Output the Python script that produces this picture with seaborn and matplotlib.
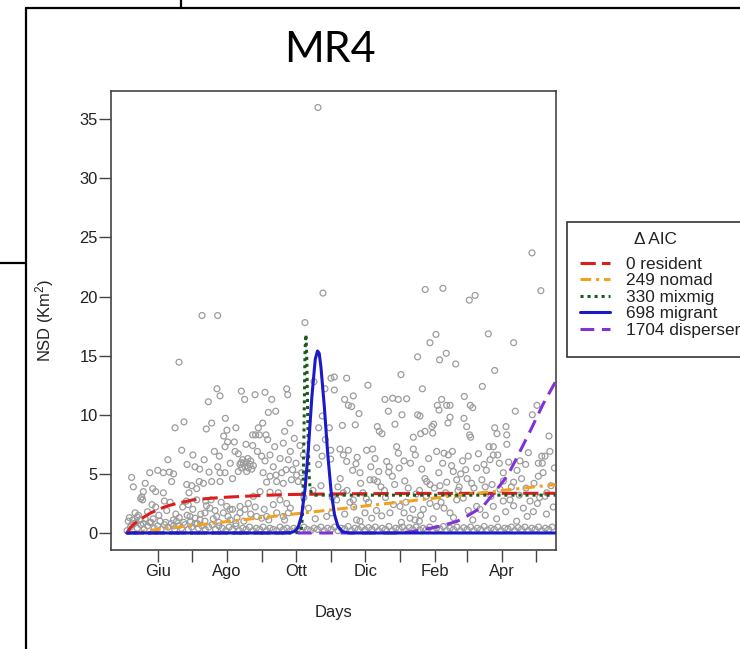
import matplotlib
matplotlib.use("Agg")
import matplotlib.pyplot as plt
from matplotlib.lines import Line2D
from matplotlib.patches import Rectangle
import seaborn as sns

# 月份刻度（以 5 月 1 日为第 0 天）
month_days = [31, 61, 92, 123, 153, 184, 214, 245, 276, 304, 335, 365]
month_labels = ["Giu", "", "Ago", "", "Ott", "", "Dic", "", "Feb", "", "Apr", ""]

# 散点：离散的 NSD 观测值
cloud_day = [
    172.4, 176.8, 361.2, 369, 267, 282.6, 311, 305.9, 70.1, 83.9, 49.8, 160.9,
    276.5, 322.7, 271.2, 345, 285.6, 260.3, 279.7, 293.9, 328.3, 245.6, 317.4, 216.5,
    264.5, 183.9, 186.8, 197.7, 168.9, 186.8, 178.6, 195.9, 203.6, 199.2, 202.1, 231.5,
    238.3, 243.3, 250.6, 234.5, 246.5, 260.3, 262.4, 281.5, 285.9, 288.9, 277.7, 279.2,
    301.5, 306.8, 308.9, 288.9, 346.5, 365.6, 361.5, 208.6, 193.9, 205.3, 240.3, 224.8,
    226.5, 228.9, 256.5, 263, 266.8, 273, 273.6, 274.5, 287.1, 301.2, 303.6, 306.2,
    307.1, 328.3, 330.3, 338.3, 338.9, 376.2,
    83.3, 86, 75.7, 104.8, 107.7, 116.9, 125.7, 131.6, 144.8, 145.7, 128.6, 135.1,
    90.7, 123.6, 119.8, 46.3, 54.2, 73.9, 78.6, 92.1, 147.7,
    8.0, 9.5, 31, 36, 41.3, 43.3, 26.6, 29.2, 36, 16, 17.7, 16.9, 29.2, 36.9, 52.2,
    56.9, 63.9, 56.6, 61, 65.4, 58.6, 56.3, 58, 67.7, 71.3, 76.3, 78.6, 86, 65.4,
    73.3, 78, 86, 90.4, 90.4, 89.2, 92.7, 98.6, 85.4, 99.2, 102.1,
    103.6, 106.6, 109, 112.5, 108, 111, 105, 114, 102.1, 115.4, 109.5, 106, 110.5, 113, 104.5,
    108.9, 114.8, 117.4, 120.7, 126.6, 114.8, 122.7, 125.7, 130.1, 134.2, 141.8, 124,
    130.1, 135.4, 140.4, 144.2, 146.3, 127.1, 136, 141.8, 115.4, 121.3, 130.1, 137.4,
    103.6, 108, 111, 103.6, 91.9, 94.8, 88.9, 77.1, 81.6, 72.7, 59.5, 63.9, 68.3,
    72.7, 44.8, 47.7, 118.3, 122.7, 127.1, 136, 141.8, 146.3, 138.9, 144.8, 11, 13,
    15.4, 8, 18.3, 18.3,
    5, 6, 9, 12, 14, 20, 24, 27, 33, 38, 45, 50, 54, 60, 66, 80, 85, 95, 100,
    151.5, 156.5, 159.5, 153, 150, 153.6, 158, 149, 155, 159.5, 176.2, 182.4, 173,
    178.9, 171.2, 183.6, 176, 173, 183.6, 191.8, 194.8, 199.2, 205.9, 197.7, 203,
    209.5, 215.3, 220.6, 222.7, 218.3, 221.8, 224.8, 233, 235.3, 234.8, 241.8, 243.3,
    256.5, 258.3, 248.3, 266.8, 268.3, 271.2, 277.1, 283.6, 287.4, 282.4, 290.3,
    291.8, 294.8, 298.3, 302.7, 305, 312.4, 318.9, 324.2, 327.1, 323.3, 327.1, 332.4,
    340.6, 335.9, 350.6, 355.6, 366.8, 370.3, 372.7, 366.8, 374.2, 359.5, 362.4,
    353.6, 347.7, 335.9, 341.8, 327.1, 312.4, 315.3, 300.6, 288.9, 294.8, 277.1,
    283.6, 265.3, 271.2, 253.6, 258, 261.8, 244.8, 248.3, 235.9, 228.6, 213.9, 219.8,
    206.5, 209.5, 200.6, 203.6, 194.8, 188.9, 184.5, 180.1,
    160, 168, 175, 190, 210, 228, 240, 252, 262, 280, 296, 308, 320, 333, 345, 356,
    378, 164, 170, 185, 215, 232, 250, 268, 285, 325, 350, 368, 380, 369.8, 372.7,
]
cloud_nsd = [
    36.0, 20.3, 23.7, 20.5, 20.6, 20.7, 20.1, 19.7, 18.4, 18.4, 14.45, 17.8,
    16.8, 16.85, 16.1, 16.1, 15.2, 14.9, 14.65, 14.3, 13.75, 13.4, 12.4, 12.5,
    12.2, 13.1, 13.2, 13.1, 12.8, 12.1, 12.2, 11.3, 11.6, 10.8, 10.7, 11.3,
    11.4, 11.3, 11.35, 10.3, 10.0, 10.0, 9.9, 11.3, 10.8, 10.8, 10.8, 10.4,
    11.55, 10.8, 10.6, 9.8, 10.3, 10.8, 10.0, 10.1, 9.1, 9.15, 9.2, 9.0,
    8.6, 8.4, 8.1, 8.4, 8.6, 9.0, 8.45, 9.2, 9.3, 9.7, 9.0, 8.3,
    8.1, 8.9, 8.4, 9.0, 8.3, 8.2,
    12.2, 11.6, 11.1, 12.0, 11.3, 11.7, 11.9, 11.3, 12.2, 11.7, 10.2, 10.3,
    9.7, 9.3, 8.9, 8.9, 9.4, 8.8, 9.3, 8.7, 9.3,
    4.7, 3.9, 5.3, 5.1, 5.15, 4.35, 3.75, 3.5, 3.4, 2.9, 2.8, 3.05, 2.2, 2.7, 7.0,
    5.8, 5.6, 4.1, 4.0, 3.75, 3.4, 2.7, 2.4, 4.35, 4.2, 5.15, 4.35, 4.35, 2.8,
    2.7, 2.8, 5.1, 5.1, 7.3, 8.2, 7.7, 7.7, 6.5, 6.9, 6.7,
    5.8, 5.9, 6.0, 5.8, 5.6, 5.5, 5.5, 5.4, 5.2, 5.7, 5.2, 6.2, 6.3, 6.1, 5.95,
    7.5, 8.3, 8.3, 8.3, 8.3, 7.4, 6.5, 6.1, 6.6, 7.3, 7.6, 5.1,
    4.8, 4.9, 5.1, 5.35, 6.2, 4.3, 4.35, 4.2, 3.1, 3.5, 3.45, 3.4,
    2.25, 2.0, 2.5, 1.7, 2.25, 2.0, 1.7, 2.1, 1.9, 1.7, 1.4, 1.25, 1.1,
    1.0, 1.1, 1.0, 1.4, 1.25, 1.4, 1.7, 1.4, 1.7, 2.8, 2.5, 1.7, 1.35,
    1.1, 0.7, 0.8, 3.5,
    1.0, 1.3, 1.1, 0.9, 1.5, 1.2, 0.9, 1.2, 1.0, 0.9, 0.6, 1.3, 0.9, 1.0, 0.8, 1.2, 0.9, 1.1, 0.8,
    8.0, 7.4, 6.6, 5.9, 5.35, 4.9, 5.1, 4.5, 4.35, 4.3, 9.9, 8.9, 8.9,
    7.9, 7.2, 7.0, 6.5, 5.8, 6.25, 7.1, 6.6, 7.0, 5.85, 6.05, 5.3,
    5.1, 7.0, 7.1, 6.3, 4.5, 4.5, 4.35, 6.05, 5.6, 5.15, 7.3, 6.75,
    7.1, 6.6, 6.1, 4.6, 4.35, 4.1, 6.9, 6.75, 6.6, 5.9, 5.7,
    5.2, 4.5, 5.0, 5.35, 6.5, 5.5, 5.8, 6.2, 6.6, 7.3, 7.3, 5.9,
    6.0, 5.1, 6.1, 5.8, 5.9, 5.9, 6.5, 4.8, 3.4, 2.7, 1.8,
    2.1, 1.0, 2.7, 2.8, 2.25, 2.25, 2.0, 2.95, 1.7, 2.8, 2.25,
    2.1, 2.0, 2.5, 1.25, 1.1, 1.0, 2.25, 1.7, 1.7, 1.45, 1.7, 1.25,
    1.1, 1.0, 2.6, 2.8, 3.4, 2.8, 1.7, 1.4,
    3.0, 3.6, 4.0, 3.9, 4.2, 3.9, 4.1, 3.8, 3.6, 4.0, 3.6, 4.2, 3.9, 3.7, 4.3, 3.8,
    4.0, 2.1, 1.2, 3.0, 2.9, 3.0, 2.6, 3.1, 3.4, 3.1, 3.2, 3.0, 2.2, 6.5, 3.1,
]

# 散点：补充的中低值观测
extra_day = [
    192, 198, 207, 212, 219, 226, 231, 238, 244, 249, 254, 259, 264, 270, 275, 279,
    286, 291, 297, 300, 304, 310, 314, 317, 321, 326, 331, 336, 339, 343, 348, 352,
    358, 363, 371, 377, 381,
    196, 204, 217, 224, 239, 246, 256, 263, 274, 281, 292, 305, 309, 320, 330, 338,
    345, 357, 366, 374,
    22, 26, 32, 39, 42, 47, 53, 57, 62, 69, 74, 83, 87, 93, 97, 101, 107, 113, 117,
    125, 129, 133, 143, 148,
    62, 68, 72, 81, 84, 95, 97, 100, 119, 128, 133, 139, 143, 148, 40, 45, 20, 24,
]
extra_nsd = [
    4.6, 3.6, 6.4, 3.4, 5.6, 5.2, 3.6, 4.8, 5.5, 4.4, 5.9, 3.3, 5.4, 6.3, 3.8, 5.1,
    4.3, 6.9, 3.9, 6.1, 4.6, 3.8, 6.7, 4.5, 5.3, 4.1, 6.6, 4.4, 7.5, 3.9, 5.3, 4.6,
    6.8, 4.2, 5.1, 6.9, 5.5,
    1.6, 2.2, 2.6, 1.9, 2.4, 0.9, 2.0, 1.5, 1.2, 2.6, 1.3, 1.9, 1.1, 1.5, 1.2, 1.8,
    2.3, 1.4, 2.5, 1.6,
    1.8, 2.4, 1.5, 1.9, 2.6, 1.6, 2.2, 1.5, 2.0, 1.6, 2.3, 1.4, 2.6, 1.4, 2.0, 1.3,
    1.0, 1.6, 2.2, 2.0, 1.1, 2.4, 1.1, 2.1,
    6.6, 5.4, 6.2, 6.9, 5.6, 5.9, 4.6, 8.9, 6.9, 7.9, 5.6, 6.3, 8.6, 6.9, 6.2, 5.0,
    4.2, 5.1,
]

# 散点：贴近 0 的密集带
band_day = [
    4, 7, 10, 13, 16, 19, 22, 25, 28, 31, 34, 37, 40, 43, 46, 49, 52, 55, 58, 61,
    64, 67, 70, 73, 76, 79, 82, 85, 88, 91, 94, 97, 100, 103, 106, 109, 112, 115,
    118, 121, 124, 127, 130, 133, 136, 139, 142, 145, 148, 151, 154, 157, 160, 163,
    166, 169, 172, 175, 178, 181, 184, 187, 190, 193, 196, 199, 202, 205, 208, 211,
    214, 217, 220, 223, 226, 229, 232, 235, 238, 241, 244, 247, 250, 253, 256, 259,
    262, 265, 268, 271, 274, 277, 280, 283, 286, 289, 292, 295, 298, 301, 304, 307,
    310, 313, 316, 319, 322, 325, 328, 331, 334, 337, 340, 343, 346, 349, 352, 355,
    358, 361, 364, 367, 370, 373, 376, 379,
]
band_nsd = [
    0.2, 0.5, 0.8, 0.4, 0.7, 0.3, 0.6, 0.9, 0.4, 0.6, 0.3, 0.7,
    0.5, 0.8, 0.3, 0.6, 0.4, 0.7, 0.3, 0.5, 0.8, 0.4, 0.6, 0.3,
    0.5, 0.7, 0.3, 0.6, 0.4, 0.2, 0.5, 0.3, 0.6, 0.2, 0.4, 0.3,
    0.5, 0.2, 0.4, 0.3, 0.5, 0.2, 0.4, 0.3, 0.2, 0.5, 0.3, 0.4,
    0.2, 0.4, 0.3, 0.2, 0.5, 0.3, 0.2, 0.4, 0.3, 0.5, 0.2, 0.4,
    0.3, 0.5, 0.2, 0.4, 0.35, 0.55, 0.2, 0.4, 0.3, 0.5, 0.25, 0.45,
    0.3, 0.5, 0.2, 0.4, 0.3, 0.55, 0.2, 0.4, 0.35, 0.5, 0.2, 0.45,
    0.3, 0.5, 0.25, 0.4, 0.3, 0.5, 0.2, 0.4, 0.35, 0.55, 0.2, 0.4,
    0.3, 0.5, 0.2, 0.45, 0.3, 0.5, 0.2, 0.4, 0.3, 0.55, 0.25, 0.4,
    0.3, 0.5, 0.2, 0.4, 0.35, 0.5, 0.2, 0.45, 0.3, 0.5, 0.2, 0.4,
    0.3, 0.5, 0.2, 0.4, 0.3, 0.5,
]

# 模型拟合曲线
resident_day = [3.7, 6.5, 10, 18, 25, 33, 40, 48, 62, 77, 92, 107, 121, 145, 180, 220, 280, 382]
resident_nsd = [0, 0.4, 0.75, 1.3, 1.7, 2.05, 2.3, 2.5, 2.8, 2.93, 3.03, 3.1, 3.17, 3.25, 3.3, 3.33, 3.35, 3.36]

nomad_day = [3.7, 100, 200, 300, 382]
nomad_nsd = [0, 1.05, 2.13, 3.22, 4.1]

mixmig_day = [3.7, 150, 156, 158, 159, 160, 161, 161.8, 162.5, 163.5, 164.5, 165.5, 167, 170, 382]
mixmig_nsd = [0, 0, 0.05, 0.5, 2.0, 8.0, 15.5, 16.8, 15.0, 9.0, 5.0, 3.7, 3.3, 3.2, 3.2]

migrant_day = [3.7, 140, 148, 152, 155, 158, 161, 164, 167, 170, 172, 173.5, 175, 178, 181,
               184, 187, 190, 194, 200, 382]
migrant_nsd = [0, 0, 0.03, 0.14, 0.5, 1.5, 3.7, 7.2, 11.5, 14.7, 15.4, 15.2, 14.05, 10.7, 6.7,
               3.5, 1.55, 0.57, 0.11, 0, 0]

disperser_day = [3.7, 240, 255, 265, 280, 295, 306, 318, 330, 340, 348, 360, 371, 382]
disperser_nsd = [0, 0, 0.1, 0.28, 0.56, 0.98, 1.54, 2.25, 3.66, 4.9, 6.4, 8.7, 10.9, 12.8]

legend_labels = ["0 resident", "249 nomad", "330 mixmig", "698 migrant", "1704 disperser"]

# 样式
W, H = 740, 649
AX_COL = "#444444"
PT_COL = "#9c9c9c"
TXT = 11.9
LEG_TXT = 12.4

sns.set_theme(style="ticks")
plt.rcParams["font.family"] = ["Liberation Sans", "DejaVu Sans"]
plt.rcParams["mathtext.fontset"] = "custom"
plt.rcParams["mathtext.rm"] = "Liberation Sans"
plt.rcParams["mathtext.it"] = "Liberation Sans:italic"

fig = plt.figure(figsize=(W / 100, H / 100), dpi=100)
fig.patch.set_facecolor("white")
ax = fig.add_axes([110.7 / W, 1 - 550 / H, (556 - 110.7) / W, (550 - 90.7) / H])
ax.set_facecolor("white")

# 散点
for xs, ys in [(band_day, band_nsd), (cloud_day, cloud_nsd), (extra_day, extra_nsd)]:
    sns.scatterplot(x=xs, y=ys, ax=ax, marker="o", s=18,
                    facecolor="none", edgecolor=PT_COL, linewidth=0.9, zorder=2)

# 曲线
styles = [
    (resident_day, resident_nsd, "#dd1c1c", (0, (5, 2))),
    (nomad_day, nomad_nsd, "#f2a21e", (0, (3.5, 1.6, 1, 1.6))),
    (mixmig_day, mixmig_nsd, "#1d5a1d", (0, (1, 1.3))),
    (disperser_day, disperser_nsd, "#8033d4", (0, (4.5, 2.5))),
    (migrant_day, migrant_nsd, "#1a1ac8", "-"),
]
for xs, ys, col, ls in styles:
    sns.lineplot(x=xs, y=ys, ax=ax, color=col, linewidth=2.2, linestyle=ls, zorder=3)

ax.set_xlim(-10.46, 382.4)
ax.set_ylim(-1.44, 37.42)
ax.set_xticks(month_days)
ax.set_xticklabels(month_labels)
ax.set_yticks([0, 5, 10, 15, 20, 25, 30, 35])
ax.tick_params(axis="both", length=8.4, width=1.0, color=AX_COL, labelsize=TXT, labelcolor="#222222")
ax.tick_params(axis="x", pad=2)
ax.tick_params(axis="y", pad=1)
for sp in ax.spines.values():
    sp.set_visible(True)
    sp.set_color(AX_COL)
    sp.set_linewidth(1.2)
ax.set_xlabel("")
ax.set_ylabel("")

# 轴标题
fig.text(333 / W, 1 - 613 / H, "Days", ha="center", va="center", fontsize=TXT, color="#222222")
fig.text(45 / W, 1 - 320 / H, "NSD (Km$^2$)", ha="center", va="center", rotation=90,
         fontsize=TXT, color="#222222")

# 大标题
fig.text(330 / W, 1 - 50 / H, "MR4", ha="center", va="center", fontsize=31,
         family=["Lato", "DejaVu Sans"], color="black")

# 图例框（右侧被裁切）
fig.add_artist(Rectangle((566.7 / W, 1 - 356.7 / H), (770 - 566.7) / W, (356.7 - 222.3) / H,
                         transform=fig.transFigure, facecolor="white", edgecolor="#333333",
                         linewidth=1.2, zorder=1))
fig.text(655 / W, 1 - 239 / H, "\u0394 AIC", ha="center", va="center", fontsize=LEG_TXT,
         color="#222222", zorder=5)
handles = [Line2D([], [], color=c, linewidth=2.2, linestyle=ls) for _, _, c, ls in
           [styles[0], styles[1], styles[2], styles[4], styles[3]]]
leg = fig.legend(handles, legend_labels, loc="upper left",
                 bbox_to_anchor=(580 / W, 1 - 257 / H), bbox_transform=fig.transFigure,
                 frameon=False, fontsize=LEG_TXT, borderpad=0, borderaxespad=0,
                 handlelength=1.75, handletextpad=0.95, labelspacing=0.08)
leg.set_zorder(5)
for t in leg.get_texts():
    t.set_color("#222222")

# 幻灯片边框线
def px_line(x0, y0, x1, y1):
    fig.add_artist(Line2D([x0 / W, x1 / W], [1 - y0 / H, 1 - y1 / H],
                          transform=fig.transFigure, color="black", linewidth=1.6))

px_line(26, 8, 740, 8)
px_line(26, 8, 26, 649)
px_line(181, 0, 181, 8)
px_line(0, 263, 26, 263)

fig.savefig("out.png", dpi=100)
